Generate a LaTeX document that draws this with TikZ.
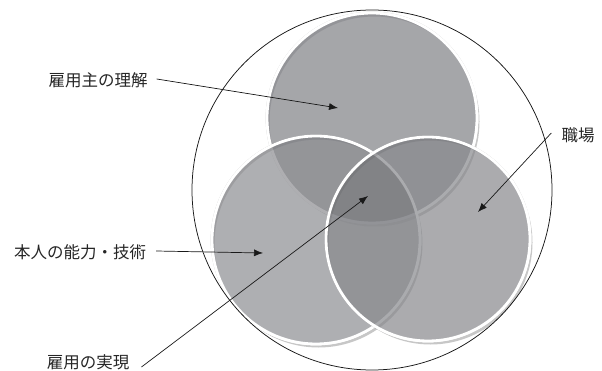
\documentclass[tikz,border=0pt]{standalone}
\usepackage{fontspec}
\setmainfont{Noto Sans CJK JP}
\usetikzlibrary{arrows.meta,calc}
\definecolor{cTop}{RGB}{127,128,133}
\definecolor{cLeft}{RGB}{140,141,145}
\definecolor{cRight}{RGB}{135,136,140}
\begin{document}
\begin{tikzpicture}[x=1pt,y=-1pt,
  lab/.style={font=\fontsize{16.5}{20}\selectfont, inner sep=0pt, text=black!85},
  arr/.style={line width=0.7pt, draw=black!90, -{Latex[length=9pt,width=7pt]}},
  venn/.style={fill=#1, fill opacity=0.7, draw=white, line width=2.8pt},
  shadowc/.style={fill=black, fill opacity=0.22, draw=none, even odd rule}]
\useasboundingbox (0,0) rectangle (602,371);
\coordinate (cT) at (372,118);
\coordinate (cL) at (316,240);
\coordinate (cR) at (428,239);
\coordinate (sh) at (2.5,3.5);
% top circle
\fill[shadowc] ($(cT)+(sh)$) circle[radius=105pt] (cT) circle[radius=106.4pt];
\filldraw[venn=cTop] (cT) circle[radius=105pt];
% left circle
\fill[shadowc] ($(cL)+(sh)$) circle[radius=104pt] (cL) circle[radius=105.4pt];
\filldraw[venn=cLeft] (cL) circle[radius=104pt];
% right circle
\fill[shadowc] ($(cR)+(sh)$) circle[radius=102pt] (cR) circle[radius=103.4pt];
\filldraw[venn=cRight] (cR) circle[radius=102pt];
% darker centre
\begin{scope}
  \clip (cT) circle[radius=103.6pt];
  \clip (cL) circle[radius=102.6pt];
  \fill[black, opacity=0.06] (cR) circle[radius=100.6pt];
\end{scope}
% outer circle
\node[draw=black!90, line width=0.75pt, circle, minimum size=360pt, inner sep=0pt] (outer) at (372,190) {};
% labels
\node[lab] (l1) at (98,80) {雇用主の理解};
\node[lab] (l2) at (578,135) {職場};
\node[lab] (l3) at (80,252) {本人の能力・技術};
\node[lab] (l4) at (88,362) {雇用の実現};
% arrow tips
\coordinate (t1) at (338,108);
\coordinate (t2) at (478,212);
\coordinate (t3) at (263,253);
\coordinate (t4) at (368,196);
\draw[arr] ([xshift=9pt,yshift=1pt]l1.east) -- (t1);
\draw[arr] ([xshift=-10pt,yshift=2pt]l2.west) -- (t2);
\draw[arr] ([xshift=10pt,yshift=1pt]l3.east) -- (t3);
\draw[arr] ([xshift=12pt,yshift=-5pt]l4.east) -- (t4);
\end{tikzpicture}
\end{document}
